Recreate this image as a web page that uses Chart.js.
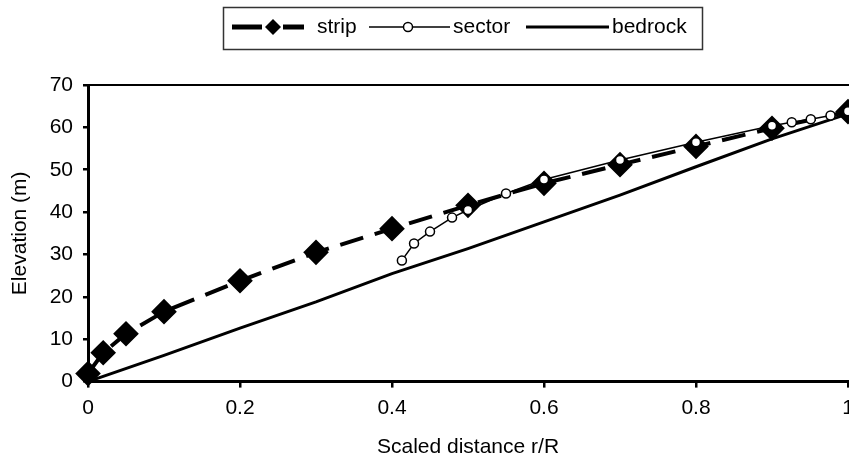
<!DOCTYPE html>
<html>
<head>
<meta charset="utf-8">
<script src="https://cdn.jsdelivr.net/npm/chart.js@4.4.1/dist/chart.umd.min.js"></script>
<style>
  html, body { margin: 0; padding: 0; background: #fff; overflow: hidden; }
  #wrap { width: 862px; height: 466px; }
</style>
</head>
<body>
<div id="wrap"><canvas id="profile"></canvas></div>
<script>
// values
const stripX = [0, 0.02, 0.05, 0.1, 0.2, 0.3, 0.4, 0.5, 0.6, 0.7, 0.8, 0.9, 1.0];
const stripY = [1.9, 6.8, 11.3, 16.5, 23.8, 30.5, 36.1, 41.6, 46.8, 51.2, 55.5, 59.8, 63.7];

const sectorX = [0.413, 0.429, 0.45, 0.479, 0.5, 0.55, 0.6, 0.7, 0.8, 0.9, 0.926, 0.951, 0.977, 1.0];
const sectorY = [28.6, 32.6, 35.4, 38.7, 40.5, 44.4, 47.7, 52.3, 56.5, 60.4, 61.2, 61.9, 62.8, 63.8];

const bedrockX = [0, 0.1, 0.2, 0.3, 0.4, 0.5, 0.6, 0.7, 0.8, 0.9, 1.0];
const bedrockY = [0, 6.2, 12.6, 18.8, 25.5, 31.4, 37.7, 44.0, 50.7, 57.3, 63.2];

const xTicks = [0, 0.2, 0.4, 0.6, 0.8, 1];
const yTicks = [0, 10, 20, 30, 40, 50, 60, 70];

const pts = (xs, ys) => xs.map((x, i) => ({ x, y: ys[i] }));
const FONT = "'Liberation Sans', Arial, sans-serif";
const FS = 21;

// box legend + top frame line, drawn by hand
const frameAndLegend = {
  id: "frameAndLegend",
  afterDraw(chart) {
    const ctx = chart.ctx;
    const area = chart.chartArea;
    ctx.save();
    ctx.strokeStyle = "#000";
    ctx.lineWidth = 2;
    ctx.beginPath();
    ctx.moveTo(area.left, area.top);
    ctx.lineTo(area.right + 20, area.top);
    ctx.stroke();

    // legend box
    ctx.strokeStyle = "#333";
    ctx.lineWidth = 1.5;
    ctx.strokeRect(223.5, 7.5, 479, 42);
    ctx.strokeStyle = "#000";
    const cy = 27;
    ctx.font = FS + "px " + FONT;
    ctx.fillStyle = "#000";
    ctx.textBaseline = "middle";

    // strip
    ctx.lineWidth = 5;
    ctx.beginPath(); ctx.moveTo(232, cy); ctx.lineTo(262, cy); ctx.stroke();
    ctx.beginPath(); ctx.moveTo(283, cy); ctx.lineTo(304, cy); ctx.stroke();
    ctx.beginPath();
    ctx.moveTo(273, cy - 8); ctx.lineTo(281, cy); ctx.lineTo(273, cy + 8); ctx.lineTo(265, cy);
    ctx.closePath(); ctx.fill();
    ctx.fillText("strip", 317, cy);

    // sector
    ctx.lineWidth = 1.5;
    ctx.beginPath(); ctx.moveTo(369, cy); ctx.lineTo(450, cy); ctx.stroke();
    ctx.beginPath(); ctx.arc(408, cy, 4.5, 0, Math.PI * 2);
    ctx.fillStyle = "#fff"; ctx.fill(); ctx.stroke();
    ctx.fillStyle = "#000";
    ctx.fillText("sector", 453, cy);

    // bedrock
    ctx.lineWidth = 3;
    ctx.beginPath(); ctx.moveTo(526, cy); ctx.lineTo(609, cy); ctx.stroke();
    ctx.fillText("bedrock", 612, cy);
    ctx.restore();
  }
};

new Chart(document.getElementById("profile").getContext("2d"), {
  type: "line",
  data: {
    datasets: [
      {
        label: "sector",
        data: pts(sectorX, sectorY),
        borderColor: "#000",
        borderWidth: 1.5,
        pointStyle: "circle",
        pointRadius: 4.5,
        pointBackgroundColor: "#fff",
        pointBorderColor: "#000",
        pointBorderWidth: 1.5,
        order: 0,
      },
      {
        label: "strip",
        data: pts(stripX, stripY),
        borderColor: "#000",
        borderWidth: 4,
        borderDash: [24, 12],
        pointStyle: "rectRot",
        pointRadius: 10,
        pointBackgroundColor: "#000",
        pointBorderColor: "#000",
        order: 1,
      },
      {
        label: "bedrock",
        data: pts(bedrockX, bedrockY),
        borderColor: "#000",
        borderWidth: 3,
        pointRadius: 0,
        order: 2,
      },
    ],
  },
  options: {
    responsive: true,
    maintainAspectRatio: false,
    animation: false,
    clip: false,
    layout: { padding: { top: 85, right: 14, left: 0, bottom: 6 } },
    plugins: { legend: { display: false }, tooltip: { enabled: false } },
    elements: { line: { tension: 0, fill: false } },
    scales: {
      x: {
        type: "linear",
        min: 0,
        max: 1,
        afterBuildTicks: (axis) => { axis.ticks = xTicks.map((v) => ({ value: v })); },
        ticks: { color: "#000", font: { size: FS, family: FONT }, padding: 8, maxRotation: 0,
                 callback: (v) => String(v) },
        grid: { drawOnChartArea: false, drawTicks: true, tickLength: 6, color: "#000", lineWidth: 2.5 },
        border: { display: true, color: "#000", width: 3 },
        title: { display: true, text: "Scaled distance r/R", color: "#000", font: { size: FS, family: FONT },
                 padding: { top: 6, bottom: 0 } },
      },
      y: {
        min: 0,
        max: 70,
        afterBuildTicks: (axis) => { axis.ticks = yTicks.map((v) => ({ value: v })); },
        afterFit: (axis) => { axis.width = 88; },
        ticks: { color: "#000", font: { size: FS, family: FONT }, padding: 10 },
        grid: { drawOnChartArea: false, drawTicks: true, tickLength: 5, color: "#000", lineWidth: 2.5 },
        border: { display: true, color: "#000", width: 3 },
        title: { display: true, text: "Elevation (m)", color: "#000", font: { size: FS, family: FONT },
                 padding: { top: 8, bottom: 4 } },
      },
    },
  },
  plugins: [frameAndLegend],
});
</script>
</body>
</html>
